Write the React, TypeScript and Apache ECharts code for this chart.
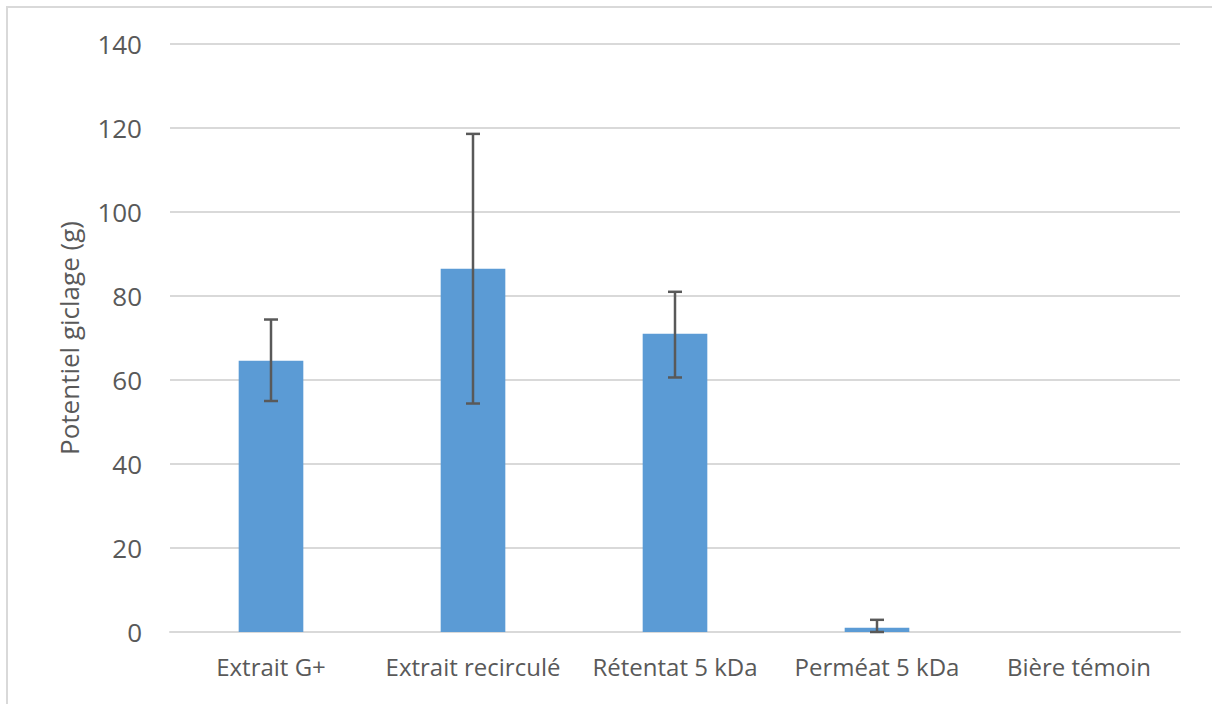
import React, { useEffect, useRef } from "react";
import * as echarts from "echarts";

const categories = ["Extrait G+", "Extrait recirculé", "Rétentat 5 kDa", "Perméat 5 kDa", "Bière témoin"];
const values = [64.6, 86.5, 71.0, 1.0, 0];
const errLow = [55.0, 54.4, 60.6, 0, 0];
const errHigh = [74.4, 118.6, 81.0, 2.9, 0];
const yTicks = { min: 0, max: 140, interval: 20 };

export default function App() {
  const ref = useRef<HTMLDivElement>(null);
  useEffect(() => {
    const chart = echarts.init(ref.current!, null, { renderer: "svg" });
    const font = "'Open Sans', sans-serif";
    const errData = categories.map((_, i) => [i, errLow[i], errHigh[i]]).filter((d, i) => errHigh[i] > 0);
    chart.setOption({
      animation: false,
      graphic: [
        {
          type: "rect",
          shape: { x: 7, y: 7, width: 1300, height: 800 },
          style: { fill: "none", stroke: "#D9D9D9", lineWidth: 2 },
          silent: true,
        },
      ],
      grid: { left: 170, right: 32, top: 44, bottom: 72 },
      xAxis: {
        type: "category",
        data: categories,
        axisLine: { show: true, lineStyle: { color: "#D9D9D9", width: 2 } },
        axisTick: { show: false },
        axisLabel: { color: "#595959", fontSize: 24, fontFamily: font, margin: 22, interval: 0, hideOverlap: false },
      },
      yAxis: {
        type: "value",
        min: yTicks.min,
        max: yTicks.max,
        interval: yTicks.interval,
        name: "Potentiel giclage (g)",
        nameLocation: "middle",
        nameGap: 88,
        nameTextStyle: { color: "#595959", fontSize: 26, fontFamily: font },
        axisLine: { show: false },
        axisTick: { show: false },
        axisLabel: { color: "#595959", fontSize: 26, fontFamily: font, margin: 28 },
        splitLine: { lineStyle: { color: "#D9D9D9", width: 2 } },
      },
      series: [
        {
          type: "bar",
          data: values,
          barWidth: "32%",
          itemStyle: { color: "#5B9BD5" },
        },
        {
          type: "custom",
          data: errData,
          z: 10,
          renderItem: (params: any, api: any) => {
            const x = api.value(0);
            const lo = api.coord([x, api.value(1)]);
            const hi = api.coord([x, api.value(2)]);
            const half = 7;
            const style = { stroke: "#595959", lineWidth: 2.5 };
            return {
              type: "group",
              children: [
                { type: "line", shape: { x1: lo[0], y1: lo[1], x2: hi[0], y2: hi[1] }, style },
                { type: "line", shape: { x1: hi[0] - half, y1: hi[1], x2: hi[0] + half, y2: hi[1] }, style },
                { type: "line", shape: { x1: lo[0] - half, y1: lo[1], x2: lo[0] + half, y2: lo[1] }, style },
              ],
            };
          },
        },
      ],
    });
    return () => chart.dispose();
  }, []);
  return <div ref={ref} style={{ position: "fixed", left: 0, top: 0, width: 1212, height: 704, background: "#fff" }} />;
}
